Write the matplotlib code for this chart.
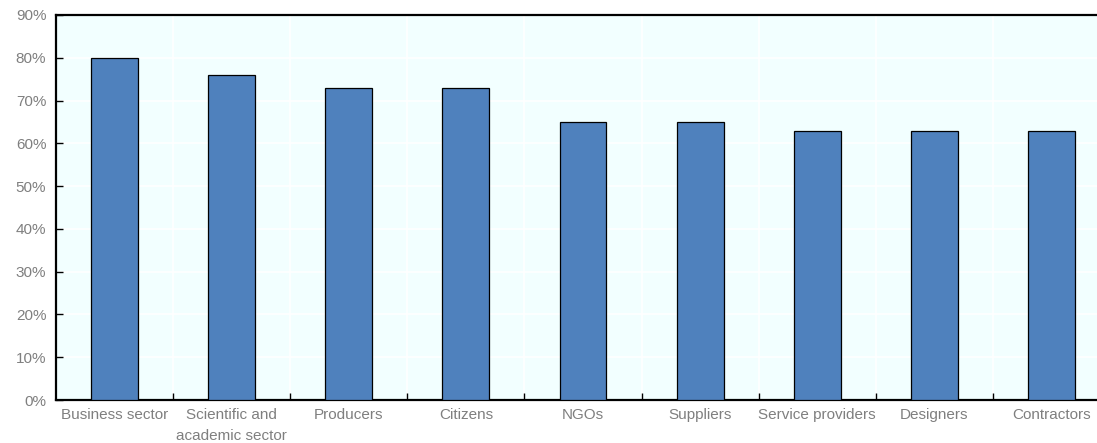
import numpy as np
import matplotlib.pyplot as plt
from matplotlib.ticker import FuncFormatter, FixedLocator

plt.rcParams['font.family'] = ['Liberation Sans', 'DejaVu Sans']

categories = ['Business sector', 'Scientific and\nacademic sector', 'Producers', 'Citizens',
              'NGOs', 'Suppliers', 'Service providers', 'Designers', 'Contractors']
shares = [80, 76, 73, 73, 65, 65, 63, 63, 63]

fig = plt.figure(figsize=(10.97, 4.43), dpi=100)
# plot area runs a little past the right edge of the figure
ax = fig.add_axes([56 / 1097, 1 - 400 / 443, (1110 - 56) / 1097, 385 / 443])

x = np.arange(len(categories))
ax.set_facecolor('#F2FFFF')
ax.bar(x, shares, width=0.40, color='#4F81BD', edgecolor='black', linewidth=0.9, zorder=3)

ax.set_xlim(-0.5, len(categories) - 0.5)
ax.set_ylim(0, 90)
ax.set_yticks(np.arange(0, 91, 10))
ax.yaxis.set_major_formatter(FuncFormatter(lambda v, p: f'{v:.0f}%'))
ax.set_xticks(x)
ax.set_xticklabels(categories, linespacing=1.6)
ax.xaxis.set_minor_locator(FixedLocator(x[:-1] + 0.5))

# white grid on both axes, vertical lines between categories
ax.grid(axis='y', color='white', linewidth=1.2, zorder=0)
ax.grid(axis='x', which='minor', color='white', linewidth=1.2, zorder=0)
ax.set_axisbelow(True)

ax.tick_params(axis='y', direction='in', length=5, width=1, colors='black',
               labelcolor='#7F7F7F', labelsize=11, pad=7)
ax.tick_params(axis='x', which='major', length=0, labelcolor='#7F7F7F', labelsize=11, pad=6)
ax.tick_params(axis='x', which='minor', direction='in', length=5, width=1, colors='black')

for side in ['left', 'bottom', 'top']:
    ax.spines[side].set_linewidth(1.6)
    ax.spines[side].set_color('black')
ax.spines['right'].set_visible(False)

fig.savefig('out.png', dpi=100)
